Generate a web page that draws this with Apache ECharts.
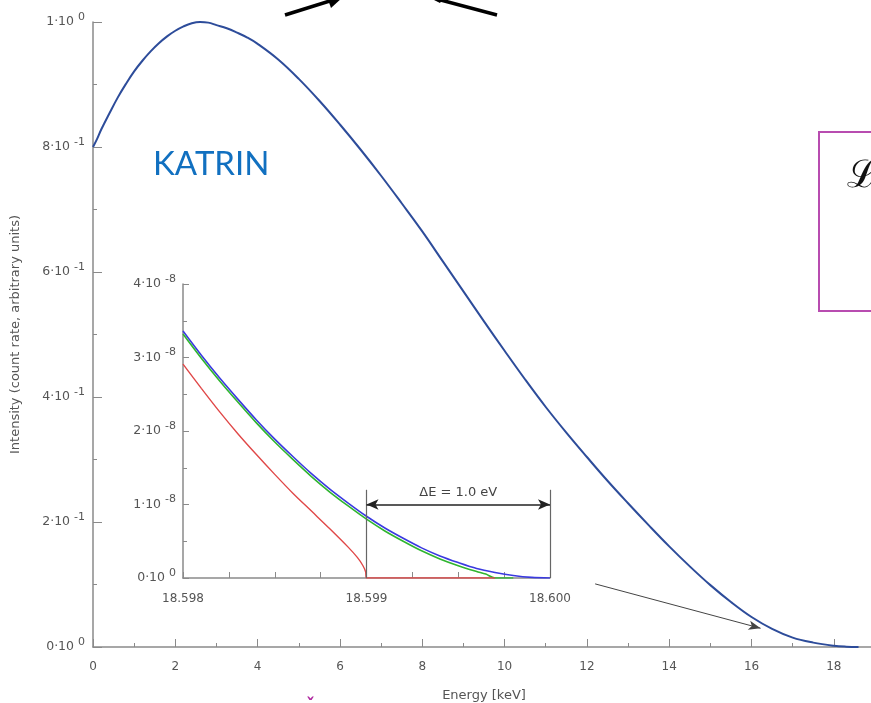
<!DOCTYPE html>
<html>
<head>
<meta charset="utf-8">
<script src="https://cdn.jsdelivr.net/npm/echarts@6/dist/echarts.min.js"></script>
<style>
  html, body { margin: 0; padding: 0; background: #fff; }
  #chart { width: 871px; height: 703px; }
</style>
</head>
<body>
<div id="chart"></div>
<script>
// main spectrum, energy in keV, intensity normalised to 1
const mainEnergy = [0, 0.1, 0.2, 0.4, 0.6, 0.8, 1.0, 1.2, 1.4, 1.6, 1.8, 2.0, 2.2, 2.4, 2.6, 2.8, 3.0, 3.25, 3.5, 3.75, 4.0, 4.5, 5.0, 5.5,
  6.0, 6.5, 7.0, 7.5, 8.0, 8.5, 9.0, 9.5, 10.0, 10.5, 11.0, 11.5, 12.0, 12.5, 13.0, 13.5, 14.0, 14.5, 15.0, 15.5,
  16.0, 16.5, 17.0, 17.5, 18.0, 18.3, 18.6];
const mainIntensity = [0.800, 0.813, 0.828, 0.854, 0.879, 0.901, 0.921, 0.938, 0.953, 0.966, 0.977, 0.986, 0.993, 0.998, 1.000, 0.999, 0.995, 0.990, 0.983, 0.975, 0.965, 0.940, 0.909, 0.874,
  0.836, 0.796, 0.754, 0.710, 0.665, 0.617, 0.569, 0.521, 0.474, 0.428, 0.384, 0.343, 0.304, 0.266, 0.230, 0.195, 0.161, 0.129, 0.099, 0.072,
  0.048, 0.029, 0.015, 0.007, 0.002, 0.0005, 0];

// endpoint zoom (inset), intensity in units of 1e-8
const blueEnergy = [18.5980, 18.5981, 18.5982, 18.5983, 18.5984, 18.5985, 18.5986, 18.5987, 18.5988, 18.5989, 18.5990,
  18.5991, 18.5992, 18.5993, 18.5994, 18.5995, 18.5996, 18.5997, 18.5998, 18.5999, 18.6000];
const blueIntensity = [3.36, 3.03, 2.72, 2.43, 2.15, 1.89, 1.65, 1.42, 1.21, 1.02, 0.84,
  0.68, 0.54, 0.41, 0.30, 0.21, 0.13, 0.076, 0.034, 0.008, 0];
const greenEnergy = [18.5980, 18.5981, 18.5982, 18.5983, 18.5984, 18.5985, 18.5986, 18.5987, 18.5988, 18.5989, 18.5990,
  18.5991, 18.5992, 18.5993, 18.5994, 18.5995, 18.5996, 18.59965, 18.5997, 18.5998];
const greenIntensity = [3.32, 2.99, 2.68, 2.39, 2.11, 1.85, 1.61, 1.38, 1.17, 0.98, 0.80,
  0.64, 0.50, 0.37, 0.26, 0.168, 0.089, 0.053, 0, 0];
const redEnergy = [18.5980, 18.5981, 18.5982, 18.5983, 18.5984, 18.5985, 18.5986, 18.5987, 18.5988, 18.5989,
  18.59895, 18.59898, 18.598995, 18.5990, 18.5995, 18.5997];
const redIntensity = [2.91, 2.58, 2.26, 1.96, 1.68, 1.41, 1.15, 0.91, 0.67, 0.42,
  0.28, 0.17, 0.085, 0, 0, 0];

// tick labels: mantissa and exponent
const mainYMantissa = ['0', '2', '4', '6', '8', '1'];
const mainYExponent = ['0', '-1', '-1', '-1', '-1', '0'];
const insetYMantissa = ['0', '1', '2', '3', '4'];
const insetYExponent = ['0', '-8', '-8', '-8', '-8'];

const deltaE = { from: 18.599, to: 18.600, level: 1.0, top: 1.2, text: 'ΔE = 1.0 eV' };
const pointer = { from: [12.2, 0.101], to: [16.22, 0.030] };

const font = 'DejaVu Sans';
const axisGray = '#8a8a8a';
const labelGray = '#555';

function pairs(xs, ys) {
  return xs.map((x, i) => [x, ys[i]]);
}

function supLabel(m, e) {
  return m + '·10 {sup|' + e + '}';
}

const richSup = {
  sup: { fontSize: 11, color: labelGray, fontFamily: font, padding: [0, 0, 10, 0] }
};

const chart = echarts.init(document.getElementById('chart'));

chart.setOption({
  backgroundColor: '#fff',
  animation: false,
  grid: [
    { left: 93, top: 22, width: 782, height: 625, outerBoundsMode: 'none' },
    { left: 183, top: 284, width: 367, height: 294, outerBoundsMode: 'none' }
  ],
  xAxis: [
    {
      gridIndex: 0, type: 'value', min: 0, max: 19, interval: 2,
      name: 'Energy [keV]', nameLocation: 'middle', nameGap: 42,
      nameTextStyle: { color: labelGray, fontSize: 13, fontFamily: font },
      axisLine: { lineStyle: { color: axisGray, width: 1.5 } },
      axisTick: { inside: true, length: 8, lineStyle: { color: axisGray } },
      minorTick: { show: true, splitNumber: 2, length: 4, lineStyle: { color: axisGray } },
      splitLine: { show: false },
      axisLabel: { color: labelGray, fontSize: 12, fontFamily: font, margin: 14,
        formatter: (v) => (v > 18 ? '' : String(v)) }
    },
    {
      gridIndex: 1, type: 'value', min: 18.598, max: 18.600, interval: 0.001,
      axisLine: { lineStyle: { color: axisGray, width: 1.5 } },
      axisTick: { inside: true, length: 6, lineStyle: { color: axisGray } },
      minorTick: { show: true, splitNumber: 4, length: 6, lineStyle: { color: axisGray } },
      splitLine: { show: false },
      axisLabel: { color: labelGray, fontSize: 12, fontFamily: font, margin: 15,
        formatter: (v) => v.toFixed(3) }
    }
  ],
  yAxis: [
    {
      gridIndex: 0, type: 'value', min: 0, max: 1, interval: 0.2,
      name: 'Intensity (count rate, arbitrary units)', nameLocation: 'middle', nameGap: 71,
      nameTextStyle: { color: labelGray, fontSize: 13, fontFamily: font },
      axisLine: { show: true, lineStyle: { color: axisGray, width: 1.5 } },
      axisTick: { show: true, inside: true, length: 9, lineStyle: { color: axisGray } },
      minorTick: { show: true, splitNumber: 2, length: 4, lineStyle: { color: axisGray } },
      splitLine: { show: false },
      axisLabel: {
        color: labelGray, fontSize: 12.5, fontFamily: font, margin: 8,
        formatter: (v) => {
          const i = Math.round(v / 0.2);
          return supLabel(mainYMantissa[i], mainYExponent[i]);
        },
        rich: richSup
      }
    },
    {
      gridIndex: 1, type: 'value', min: 0, max: 4, interval: 1,
      axisLine: { show: true, lineStyle: { color: axisGray, width: 1.5 } },
      axisTick: { show: true, inside: true, length: 6, lineStyle: { color: axisGray } },
      minorTick: { show: true, splitNumber: 2, length: 4, lineStyle: { color: axisGray } },
      splitLine: { show: false },
      axisLabel: {
        color: labelGray, fontSize: 12.5, fontFamily: font, margin: 7,
        formatter: (v) => {
          const i = Math.round(v);
          return supLabel(insetYMantissa[i], insetYExponent[i]);
        },
        rich: richSup
      }
    }
  ],
  series: [
    {
      type: 'line', xAxisIndex: 0, yAxisIndex: 0,
      data: pairs(mainEnergy, mainIntensity),
      showSymbol: false, smooth: 0.4,
      lineStyle: { color: '#2d4c9a', width: 2 },
      markLine: {
        silent: true, symbol: ['none', 'arrow'], symbolSize: [7, 12],
        lineStyle: { color: '#444', width: 1, type: 'solid' },
        label: { show: false },
        data: [[{ coord: pointer.from }, { coord: pointer.to }]]
      }
    },
    {
      type: 'line', xAxisIndex: 1, yAxisIndex: 1,
      data: pairs(blueEnergy, blueIntensity),
      showSymbol: false, smooth: 0.3,
      lineStyle: { color: '#3a3ae0', width: 1.6 },
      markLine: {
        silent: true, symbol: 'none',
        lineStyle: { color: '#666', width: 1.2, type: 'solid' },
        label: { show: false },
        data: [
          [{ coord: [deltaE.from, 0] }, { coord: [deltaE.from, deltaE.top] }],
          [{ coord: [deltaE.to, 0] }, { coord: [deltaE.to, deltaE.top] }],
          [
            { coord: [deltaE.from, deltaE.level], symbol: 'arrow' },
            { coord: [deltaE.to, deltaE.level], symbol: 'arrow',
              lineStyle: { color: '#222', width: 1.5 },
              label: { show: true, position: 'middle', formatter: deltaE.text, distance: 5,
                color: '#444', fontSize: 13, fontFamily: font } }
          ]
        ],
        symbolSize: [8, 12]
      }
    },
    {
      type: 'line', xAxisIndex: 1, yAxisIndex: 1,
      data: pairs(greenEnergy, greenIntensity),
      showSymbol: false, smooth: 0.3,
      lineStyle: { color: '#2fb52f', width: 1.6 }
    },
    {
      type: 'line', xAxisIndex: 1, yAxisIndex: 1,
      data: pairs(redEnergy, redIntensity),
      showSymbol: false, smooth: 0.3,
      lineStyle: { color: '#e04848', width: 1.4 }
    }
  ],
  graphic: [
    { type: 'text', left: 153, top: 148,
      style: { text: 'KATRIN', fill: '#1170c0', font: '33px Lato' } },
    { type: 'rect', shape: { x: 819, y: 132, width: 120, height: 179 },
      style: { fill: 'none', stroke: '#b84cb0', lineWidth: 2 } },
    { type: 'text', x: 847, y: 158,
      style: { text: 'ℒ', fill: '#111', font: '38px "DejaVu Serif"' } },
    { type: 'text', x: 306, y: 697,
      style: { text: 'ˇ', fill: '#b02aa0', font: 'bold 18px "DejaVu Sans"' } },
    { type: 'polyline', shape: { points: [[285, 15], [336, -1]] },
      style: { stroke: '#000', lineWidth: 3.5, fill: 'none' } },
    { type: 'polygon', shape: { points: [[326, -6], [343, -3], [331, 8]] },
      style: { fill: '#000' } },
    { type: 'polyline', shape: { points: [[497, 15], [437, -1]] },
      style: { stroke: '#000', lineWidth: 3.5, fill: 'none' } },
    { type: 'polygon', shape: { points: [[446, -6], [430, -2], [440, 3]] },
      style: { fill: '#000' } }
  ]
});
</script>
</body>
</html>
